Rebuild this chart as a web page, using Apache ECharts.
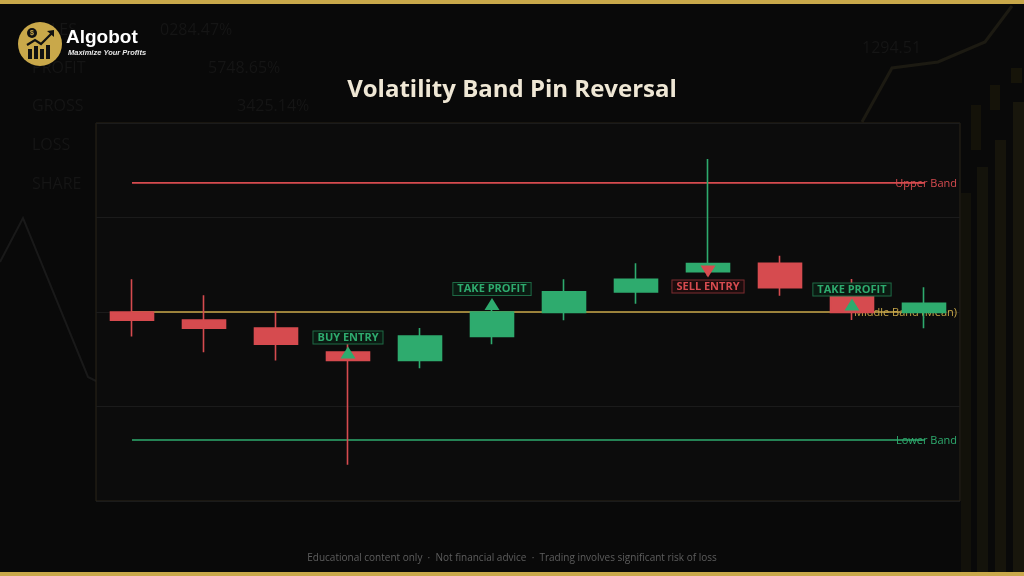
<!DOCTYPE html>
<html>
<head>
<meta charset="utf-8">
<script src="https://cdn.jsdelivr.net/npm/echarts@6/dist/echarts.min.js"></script>
<style>
html,body{margin:0;padding:0;background:#090909;}
#chart{width:1024px;height:576px;}
</style>
</head>
<body>
<div id="chart"></div>
<script>
// ---- data ----
const categories = ['1','2','3','4','5','6','7','8','9','10','11','12'];
const opens  = [100.00, 99.58, 99.15, 97.88, 97.44, 98.71, 99.98, 101.06, 102.13, 102.58, 100.90, 99.98];
const closes = [99.56, 99.14, 98.29, 97.44, 98.73, 100.00, 101.07, 101.73, 102.56, 101.29, 99.98, 100.46];
const lows   = [98.71, 97.87, 97.44, 91.92, 97.02, 98.29, 99.56, 100.44, 101.90, 100.86, 99.58, 99.14];
const highs  = [101.73, 100.88, 100.02, 98.34, 99.15, 100.37, 101.73, 102.58, 108.10, 102.98, 101.75, 101.31];
const upperBand  = [106.83, 106.83, 106.83, 106.83, 106.83, 106.83, 106.83, 106.83, 106.83, 106.83, 106.83, 106.83];
const middleBand = [100.00, 100.00, 100.00, 100.00, 100.00, 100.00, 100.00, 100.00, 100.00, 100.00, 100.00, 100.00];
const lowerBand  = [93.23, 93.23, 93.23, 93.23, 93.23, 93.23, 93.23, 93.23, 93.23, 93.23, 93.23, 93.23];
const signalIndex = [3, 5, 8, 10];
const signalText  = ['BUY ENTRY', 'TAKE PROFIT', 'SELL ENTRY', 'TAKE PROFIT'];
const signalSide  = ['buy', 'buy', 'sell', 'buy'];
const titleText = 'Volatility Band Pin Reversal';
const footerText = 'Educational content only  ·  Not financial advice  ·  Trading involves significant risk of loss';

// ---- styles ----
const GREEN = '#2eab6e';
const RED = '#d64b4f';
const GOLD = '#c9a84a';
const FONT = "'Open Sans', 'Noto Sans', sans-serif";

const ohlc = categories.map((c, i) => [opens[i], closes[i], lows[i], highs[i]]);

const markData = signalIndex.map((idx, k) => {
  const buy = signalSide[k] === 'buy';
  const col = buy ? GREEN : RED;
  return {
    coord: [categories[idx], closes[idx]],
    symbol: buy ? 'path://M5,0 L10,9 L0,9 Z' : 'path://M0,0 L10,0 L5,9 Z',
    symbolSize: [15, 12],
    symbolOffset: [0, buy ? -8 : 8],
    itemStyle: { color: col },
    label: {
      show: true,
      formatter: signalText[k],
      position: buy ? 'top' : 'bottom',
      distance: 3,
      color: col,
      fontFamily: FONT,
      fontWeight: 'bold',
      fontSize: 11,
      lineHeight: 12,
      padding: [0, 4, 0, 4],
      backgroundColor: buy ? '#0b1a12' : '#1c0c0d',
      borderColor: buy ? '#1e6a45' : '#7d2c30',
      borderWidth: 1
    }
  };
});

function bandSeries(name, data, color) {
  return {
    name: name,
    type: 'line',
    data: data,
    z: 1,
    symbol: 'none',
    silent: true,
    lineStyle: { color: color, width: 1.6 },
    endLabel: {
      show: true,
      formatter: name,
      color: color,
      fontFamily: FONT,
      fontSize: 11,
      align: 'right',
      verticalAlign: 'middle',
      distance: 33,
      offset: [0, 1]
    }
  };
}

const chart = echarts.init(document.getElementById('chart'), null, { renderer: 'canvas' });

const bgText = (t, x, y, align) => ({
  type: 'text', x: x, y: y, silent: true, z: -10,
  style: { text: t, fill: '#151515', font: "16px 'Open Sans'", textAlign: align || 'left', textVerticalAlign: 'middle' }
});

chart.setOption({
  animation: false,
  backgroundColor: '#090909',
  title: {
    text: titleText,
    left: 'center',
    top: 73,
    textStyle: { color: '#efe7d5', fontFamily: FONT, fontWeight: 'bold', fontSize: 24 }
  },
  grid: {
    left: 96, right: 64, top: 123, bottom: 75,
    show: true,
    backgroundColor: '#0c0c0c',
    borderColor: '#2a2518',
    borderWidth: 1
  },
  xAxis: {
    type: 'category',
    data: categories,
    boundaryGap: true,
    axisLine: { show: false },
    axisTick: { show: false },
    axisLabel: { show: false },
    splitLine: { show: false }
  },
  yAxis: {
    type: 'value',
    min: 90, max: 110, interval: 5,
    axisLine: { show: false },
    axisTick: { show: false },
    axisLabel: { show: false },
    splitLine: { show: true, lineStyle: { color: '#1b1b1b', width: 1 } }
  },
  series: [
    bandSeries('Upper Band', upperBand, RED),
    bandSeries('Middle Band (Mean)', middleBand, GOLD),
    bandSeries('Lower Band', lowerBand, GREEN),
    {
      name: 'Price',
      type: 'candlestick',
      z: 3,
      data: ohlc,
      barWidth: 44,
      itemStyle: {
        color: GREEN, color0: RED,
        borderColor: GREEN, borderColor0: RED,
        borderWidth: 1.6
      },
      markPoint: {
        z: 5,
        data: markData
      }
    }
  ],
  graphic: [
    // faint backdrop decoration
    bgText('SALES', 32, 30), bgText('0284.47%', 160, 30),
    bgText('PROFIT', 32, 68), bgText('5748.65%', 208, 68),
    bgText('GROSS', 32, 106), bgText('3425.14%', 237, 106),
    bgText('LOSS', 32, 145), bgText('SHARE', 32, 184),
    bgText('1294.51', 862, 48),
    { type: 'polyline', silent: true, z: -10, shape: { points: [[0, 262], [23, 218], [88, 377], [96, 381]] }, style: { stroke: '#191919', lineWidth: 2, fill: null } },
    { type: 'polyline', silent: true, z: -10, shape: { points: [[862, 122], [892, 68], [938, 62], [985, 42], [1012, 6]] }, style: { stroke: '#1c1a12', lineWidth: 3, fill: null } },
    { type: 'rect', silent: true, z: -10, shape: { x: 961, y: 193, width: 10, height: 379 }, style: { fill: '#12110a' } },
    { type: 'rect', silent: true, z: -10, shape: { x: 977, y: 167, width: 11, height: 405 }, style: { fill: '#14130b' } },
    { type: 'rect', silent: true, z: -10, shape: { x: 995, y: 140, width: 11, height: 432 }, style: { fill: '#16140b' } },
    { type: 'rect', silent: true, z: -10, shape: { x: 1013, y: 102, width: 11, height: 470 }, style: { fill: '#18160c' } },
    { type: 'rect', silent: true, z: -10, shape: { x: 971, y: 105, width: 10, height: 45 }, style: { fill: '#141209' } },
    { type: 'rect', silent: true, z: -10, shape: { x: 990, y: 85, width: 10, height: 25 }, style: { fill: '#151309' } },
    { type: 'rect', silent: true, z: -10, shape: { x: 1011, y: 68, width: 11, height: 15 }, style: { fill: '#161409' } },
    // gold frame bars
    { type: 'rect', silent: true, z: 10, shape: { x: 0, y: 0, width: 1024, height: 4 }, style: { fill: GOLD } },
    { type: 'rect', silent: true, z: 10, shape: { x: 0, y: 572, width: 1024, height: 4 }, style: { fill: GOLD } },
    // logo
    { type: 'circle', silent: true, z: 10, shape: { cx: 40, cy: 44, r: 22 }, style: { fill: GOLD } },
    { type: 'rect', silent: true, z: 11, shape: { x: 28, y: 49, width: 4, height: 10 }, style: { fill: '#111' } },
    { type: 'rect', silent: true, z: 11, shape: { x: 34, y: 46, width: 4, height: 13 }, style: { fill: '#111' } },
    { type: 'rect', silent: true, z: 11, shape: { x: 40, y: 49, width: 4, height: 10 }, style: { fill: '#111' } },
    { type: 'rect', silent: true, z: 11, shape: { x: 46, y: 45, width: 4, height: 14 }, style: { fill: '#111' } },
    { type: 'polyline', silent: true, z: 11, shape: { points: [[27, 45], [35, 40], [41, 44], [52, 33]] }, style: { stroke: '#111', lineWidth: 2.2, fill: null } },
    { type: 'polygon', silent: true, z: 11, shape: { points: [[54, 30], [54, 37], [47, 31]] }, style: { fill: '#111' } },
    { type: 'circle', silent: true, z: 11, shape: { cx: 32, cy: 33, r: 5 }, style: { fill: '#111' } },
    { type: 'text', silent: true, z: 12, x: 32, y: 33, style: { text: '$', fill: GOLD, font: "bold 7px 'Liberation Sans'", textAlign: 'center', textVerticalAlign: 'middle' } },
    { type: 'text', silent: true, z: 11, x: 66, y: 38, style: { text: 'Algobot', fill: '#ffffff', font: "bold 19px 'Liberation Sans', Arial, sans-serif", textAlign: 'left', textVerticalAlign: 'middle' } },
    { type: 'text', silent: true, z: 11, x: 68, y: 53, style: { text: 'Maximize Your Profits', fill: '#e8e8e8', font: "italic bold 7.5px 'Liberation Sans', Arial, sans-serif", textAlign: 'left', textVerticalAlign: 'middle' } },
    // footer
    { type: 'text', silent: true, z: 11, x: 512, y: 558, style: { text: footerText, fill: '#5e5e5e', font: "10px 'Open Sans', sans-serif", textAlign: 'center', textVerticalAlign: 'middle' } }
  ]
});
</script>
</body>
</html>
